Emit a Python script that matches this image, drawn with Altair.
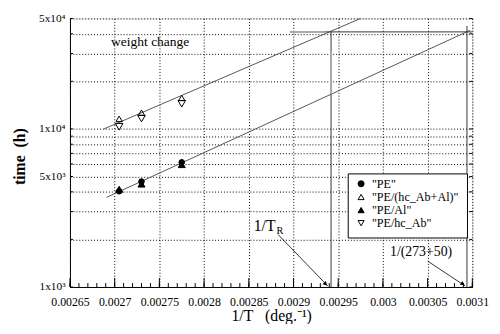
import altair as alt
import pandas as pd

FONT = "Liberation Serif"
W, H = 409, 273

# ---- axis values ----
x_ticks = [0.00265, 0.0027, 0.00275, 0.0028, 0.00285, 0.0029, 0.00295, 0.003, 0.00305, 0.0031]
x_minor = [round(0.00265 + i * 0.00001, 5) for i in range(46)]
y_grid = [1000, 2000, 3000, 4000, 5000, 6000, 7000, 8000, 9000,
          10000, 20000, 30000, 40000, 50000]

# ---- data ----
series = ['"PE"', '"PE/(hc_Ab+Al)"', '"PE/Al"', '"PE/hc_Ab"']
pt_x = [0.002705, 0.00273, 0.002775]
pe_y = [4030, 4650, 6150]
pe_hcab_al_y = [11580, 12660, 15700]
pe_al_y = [4150, 4480, 5950]
pe_hcab_y = [10320, 11630, 14430]

# fitted lines (endpoints)
upper_fit_x = [0.002688, 0.002975]
upper_fit_y = [10000, 50000]
lower_fit_x = [0.002691, 0.0030976]
lower_fit_y = [3690, 42070]

inv_TR = 0.002942
inv_323 = 0.003094
t_level = 41100

# legend placement (in data coordinates of the plot)
leg_box_x = [0.0029612, 0.0030946]
leg_box_y = [5193, 2042]
leg_sym_x = 0.0029756
leg_txt_x = 0.0029877
leg_row_y = [4499, 3711, 3066, 2533]

xs = alt.Scale(domain=[0.00265, 0.0031], nice=False, zero=False)
ys = alt.Scale(type="log", domain=[1000, 50000], nice=False)
shape_scale = alt.Scale(domain=series,
                        range=["circle", "triangle-up", "triangle-up", "triangle-down"])
fill_scale = alt.Scale(domain=series, range=["black", "transparent", "black", "transparent"])

pts = pd.DataFrame({
    "x": pt_x * 4,
    "y": pe_y + pe_hcab_al_y + pe_al_y + pe_hcab_y,
    "series": [series[0]] * 3 + [series[1]] * 3 + [series[2]] * 3 + [series[3]] * 3,
})

fits = pd.DataFrame({
    "x": upper_fit_x + lower_fit_x,
    "y": upper_fit_y + lower_fit_y,
    "g": ["u", "u", "l", "l"],
})

y_label_expr = ("datum.value == 1000 ? '1x10\u00b3' : datum.value == 5000 ? '5x10\u00b3' : "
                "datum.value == 10000 ? '1x10\u2074' : datum.value == 50000 ? '5x10\u2074' : ''")

x_axis = alt.Axis(values=x_ticks, labelExpr="format(datum.value, '~g')", grid=True,
                  gridDash=[1, 2], gridColor="black", gridWidth=1, gridOpacity=1,
                  ticks=False, domainColor="black", labelPadding=10, labelOverlap=False,
                  labelFlush=False, labelFont=FONT, labelFontSize=12, labelColor="black",
                  title="1/T\u00a0\u00a0\u00a0(deg.\u207b\u00b9)", titleFont=FONT, titleFontSize=16,
                  titleFontWeight="normal", titleColor="black", titleY=34,
                  titleBaseline="alphabetic")
y_axis = alt.Axis(values=y_grid, labelExpr=y_label_expr, grid=True,
                  gridDash=[1, 2], gridColor="black", gridWidth=1, gridOpacity=1,
                  ticks=False, domainColor="black", labelPadding=5, labelOverlap=False,
                  labelFont=FONT, labelFontSize=11.5, labelColor="black",
                  title="time\u00a0\u00a0(h)", titleFont=FONT, titleFontSize=16,
                  titleFontWeight="bold", titleColor="black", titleX=-51, titleY=140,
                  titleAngle=270, titleAlign="center", titleBaseline="middle")

fit_layer = alt.Chart(fits).mark_line(color="#555555", strokeWidth=1).encode(
    x=alt.X("x:Q", scale=xs, axis=x_axis),
    y=alt.Y("y:Q", scale=ys, axis=y_axis),
    detail="g:N",
)

# construction lines
cons = pd.DataFrame({
    "x": [inv_TR, 0.00293, inv_323],
    "x2": [inv_TR, 0.0031, inv_323],
    "y": [t_level, t_level, 44800],
    "y2": [1000, t_level, 1000],
})
cons_layer = alt.Chart(cons).mark_rule(color="#333333", strokeWidth=1).encode(
    x="x:Q", x2="x2:Q", y="y:Q", y2="y2:Q")
gray = pd.DataFrame({
    "x": [inv_TR, 0.002896],
    "x2": [inv_TR, 0.002935],
    "y": [31000, t_level],
    "y2": [16600, t_level],
})
gray_layer = alt.Chart(gray).mark_rule(color="#aaaaaa", strokeWidth=2).encode(
    x="x:Q", x2="x2:Q", y="y:Q", y2="y2:Q")

# inward ticks
bx = pd.DataFrame({"x": x_minor})
bottom_minor = alt.Chart(bx).mark_rule(color="black", strokeWidth=1).encode(
    x="x:Q", y=alt.value(H), y2=alt.value(H - 4))
bmaj = pd.DataFrame({"x": x_ticks})
bottom_major = alt.Chart(bmaj).mark_rule(color="black", strokeWidth=1).encode(
    x="x:Q", y=alt.value(H), y2=alt.value(H - 9))
yt = pd.DataFrame({"y": y_grid})
left_ticks = alt.Chart(yt).mark_rule(color="black", strokeWidth=1).encode(
    y="y:Q", x=alt.value(0), x2=alt.value(3))
right_ticks = alt.Chart(yt).mark_rule(color="black", strokeWidth=1).encode(
    y="y:Q", x=alt.value(W - 3), x2=alt.value(W))

# points
point_layer = alt.Chart(pts).mark_point(filled=True, stroke="black", strokeWidth=1,
                                        opacity=1).encode(
    x="x:Q", y="y:Q",
    shape=alt.Shape("series:N", scale=shape_scale, legend=None),
    fill=alt.Fill("series:N", scale=fill_scale, legend=None),
    size=alt.Size("series:N", scale=alt.Scale(domain=series, range=[32, 60, 55, 60]),
                  legend=None),
)

# legend (drawn as marks through the same shape/fill scales)
lbox = pd.DataFrame({"x": [leg_box_x[0]], "x2": [leg_box_x[1]],
                     "y": [leg_box_y[0]], "y2": [leg_box_y[1]]})
lbox_layer = alt.Chart(lbox).mark_rect(fill="white", stroke="black", strokeWidth=1).encode(
    x="x:Q", x2="x2:Q", y="y:Q", y2="y2:Q")
lent = pd.DataFrame({"series": series, "sx": [leg_sym_x] * 4, "tx": [leg_txt_x] * 4,
                     "y": leg_row_y})
lsym_layer = alt.Chart(lent).mark_point(filled=True, stroke="black", strokeWidth=1,
                                        opacity=1, size=38).encode(
    x="sx:Q", y="y:Q",
    shape=alt.Shape("series:N", scale=shape_scale, legend=None),
    fill=alt.Fill("series:N", scale=fill_scale, legend=None),
)
ltxt_layer = alt.Chart(lent).mark_text(font=FONT, fontSize=12.3, align="left",
                                       baseline="middle", color="black").encode(
    x="tx:Q", y="y:Q", text="series:N")

# annotations
wc = pd.DataFrame({"x": [0.002696], "y": [35250], "t": ["weight change"]})
wc_layer = alt.Chart(wc).mark_text(font=FONT, align="left", baseline="middle", fontSize=13.7,
                                   color="black").encode(x="x:Q", y="y:Q", text="t:N")
tr = pd.DataFrame({"x": [0.0028555], "y": [2413], "t": ["1/T"]})
tr_layer = alt.Chart(tr).mark_text(font=FONT, align="left", baseline="middle", fontSize=16,
                                   color="black").encode(x="x:Q", y="y:Q", text="t:N")
sub = pd.DataFrame({"x": [0.002881], "y": [2252], "t": ["R"]})
sub_layer = alt.Chart(sub).mark_text(font=FONT, align="left", baseline="middle", fontSize=10.5,
                                     color="black").encode(x="x:Q", y="y:Q", text="t:N")
t323 = pd.DataFrame({"x": [0.003008], "y": [1661], "t": ["1/(273+50)"]})
t323_layer = alt.Chart(t323).mark_text(font=FONT, align="left", baseline="middle", fontSize=14,
                                       color="black").encode(x="x:Q", y="y:Q", text="t:N")

arrows = pd.DataFrame({
    "x": [0.002883, 0.00305],
    "y": [2141, 1459],
    "x2": [0.0029385, 0.003092],
    "y2": [1012, 1015],
})
arrow_layer = alt.Chart(arrows).mark_rule(color="black", strokeWidth=0.8).encode(
    x="x:Q", y="y:Q", x2="x2:Q", y2="y2:Q")
heads = pd.DataFrame({"x": [0.0029359, 0.0030893], "y": [1045, 1045], "a": [136, 123]})
head_layer = alt.Chart(heads).mark_point(shape="triangle-up", filled=True, color="black",
                                         size=22, opacity=1).encode(
    x="x:Q", y="y:Q", angle=alt.Angle("a:Q", scale=None))

chart = alt.layer(
    fit_layer, cons_layer, gray_layer, bottom_minor, bottom_major, left_ticks, right_ticks,
    arrow_layer, head_layer, wc_layer, tr_layer, sub_layer, t323_layer, point_layer,
    lbox_layer, lsym_layer, ltxt_layer,
).properties(
    width=W, height=H,
    autosize=alt.AutoSizeParams(type="none"),
    padding={"left": 63, "top": 8, "right": 20, "bottom": 35},
).configure_view(stroke="black", strokeWidth=1.5).configure(background="white", font=FONT)

chart.save("out.html", embed_options={"renderer": "svg", "actions": False})
